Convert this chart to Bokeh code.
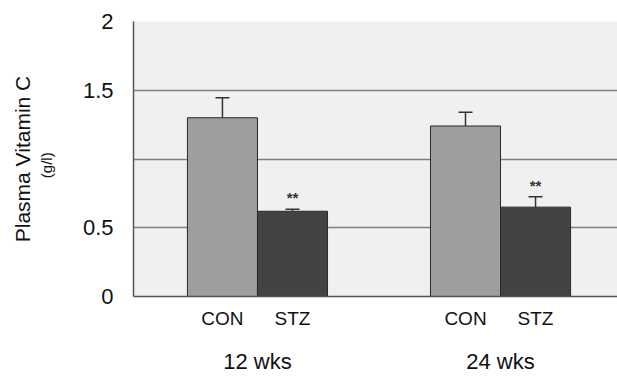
import math
from bokeh.plotting import figure
from bokeh.models import (ColumnDataSource, FixedTicker, Label, Whisker, TeeHead,
                          Range1d, LinearAxis)
from bokeh.embed import file_html
from bokeh.resources import INLINE

# ---- data ----
groups = ["12 wks", "24 wks"]
treatments = ["CON", "STZ", "CON", "STZ"]
bar_x = [1.27, 2.27, 4.74, 5.74]
group_x = [1.77, 5.24]
means = [1.30, 0.62, 1.24, 0.65]
errors = [0.145, 0.015, 0.10, 0.075]
bar_colors = ["#9e9e9e", "#434343", "#9e9e9e", "#434343"]
sig_marks = ["", "**", "", "**"]
y_ticks = [0, 0.5, 1, 1.5, 2]
y_tick_labels = ["0", "0.5", "", "1.5", "2"]
y_title = "Plasma Vitamin C"
y_unit = "(g/l)"

FONT = "Liberation Sans"
TXT = "#111111"

src = ColumnDataSource(dict(
    x=bar_x, top=means, color=bar_colors,
    upper=[m + e for m, e in zip(means, errors)],
))

p = figure(width=617, height=376, output_backend="svg", toolbar_location=None,
           x_range=Range1d(0, 6.91), y_range=Range1d(0, 2),
           min_border_left=133, min_border_right=0, min_border_top=21,
           min_border_bottom=77)
p.background_fill_color = "#f0f0f0"
p.border_fill_color = "white"
p.outline_line_color = None

p.vbar(x="x", top="top", width=1.0, bottom=0, source=src,
       fill_color="color", line_color="#2a2a2a", line_width=1)

w = Whisker(base="x", lower="top", upper="upper", source=src,
            line_color="#333333", line_width=1.5,
            upper_head=TeeHead(size=14, line_color="#333333", line_width=1.5),
            lower_head=None)
p.add_layout(w)

# significance marks
for x, m, e, s in zip(bar_x, means, errors, sig_marks):
    if s:
        p.add_layout(Label(x=x, y=m + e + 0.085, text=s, text_align="center",
                           text_baseline="middle", text_font=FONT,
                           text_font_size="15px", text_font_style="bold",
                           text_color="#333333"))

# y axis (tick labels)
p.yaxis.ticker = FixedTicker(ticks=y_ticks)
p.yaxis.major_label_overrides = {t: l for t, l in zip(y_ticks, y_tick_labels)}
p.yaxis.major_label_text_font = FONT
p.yaxis.major_label_text_font_size = "22px"
p.yaxis.major_label_text_color = TXT
p.yaxis.major_tick_out = 0
p.yaxis.major_tick_in = 0
p.yaxis.minor_tick_line_color = None
p.yaxis.major_label_standoff = 20
p.yaxis.axis_line_color = "#555555"
p.yaxis.axis_line_width = 1.5

# extra left axes carrying the titles
def title_axis(text, size, standoff):
    ax = LinearAxis(ticker=FixedTicker(ticks=[]), axis_line_color=None,
                    major_tick_line_color=None, minor_tick_line_color=None,
                    major_tick_out=0, major_label_standoff=0,
                    major_label_text_font_size="0px",
                    axis_label=text, axis_label_text_font=FONT,
                    axis_label_text_font_size=size,
                    axis_label_text_font_style="normal",
                    axis_label_text_color=TXT,
                    axis_label_standoff=standoff)
    p.add_layout(ax, "left")

title_axis(y_unit + "\u00a0\u00a0\u00a0", "15px", 25)
title_axis(y_title, "21px", 1)

p.ygrid.ticker = FixedTicker(ticks=y_ticks)
p.ygrid.grid_line_color = "#808080"
p.ygrid.grid_line_width = 1.3
p.xgrid.grid_line_color = None

# x axis (treatments)
p.xaxis.ticker = FixedTicker(ticks=bar_x)
p.xaxis.major_label_overrides = {x: l for x, l in zip(bar_x, treatments)}
p.xaxis.major_label_text_font = FONT
p.xaxis.major_label_text_font_size = "19px"
p.xaxis.major_label_text_color = TXT
p.xaxis.major_tick_out = 0
p.xaxis.major_tick_in = 0
p.xaxis.minor_tick_line_color = None
p.xaxis.major_label_standoff = 11
p.xaxis.axis_line_color = "#555555"
p.xaxis.axis_line_width = 1.5

# second x axis (groups)
gax = LinearAxis(ticker=FixedTicker(ticks=group_x),
                 major_label_overrides={x: g for x, g in zip(group_x, groups)},
                 axis_line_color=None, major_tick_line_color=None,
                 minor_tick_line_color=None, major_tick_out=0,
                 major_label_standoff=17, major_label_text_font=FONT,
                 major_label_text_font_size="22px", major_label_text_color=TXT)
p.add_layout(gax, "below")

open("out.html", "w").write(file_html(p, INLINE))
